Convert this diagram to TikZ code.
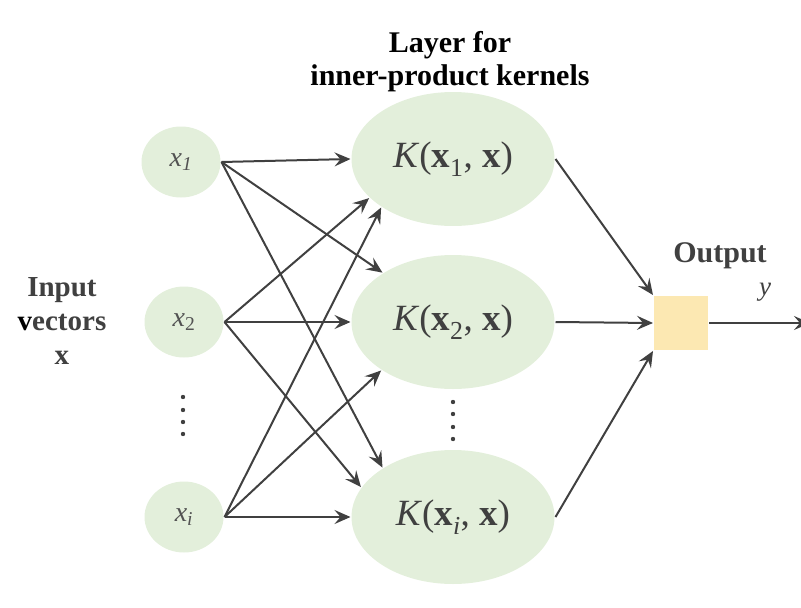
\documentclass[tikz,border=0pt]{standalone}
\usepackage{fontspec}
\setmainfont{Liberation Serif}
\usetikzlibrary{shapes.geometric,arrows.meta}
\definecolor{leaf}{RGB}{227,239,219}
\definecolor{sand}{RGB}{252,232,178}
\definecolor{ink}{RGB}{64,64,64}
\tikzset{inp/.style={ellipse, fill=leaf, minimum width=79pt, minimum height=71pt,
		inner sep=0pt, text=ink!90, font=\fontsize{28}{28}\selectfont\itshape},
	kern/.style={ellipse, fill=leaf, minimum width=203pt, minimum height=134pt,
		inner sep=0pt, text=ink, font=\fontsize{37}{37}\selectfont},
	lab/.style={align=center, font=\fontsize{30}{33}\selectfont\bfseries}}

\begin{document}
\begin{tikzpicture}[x=1pt, y=-1pt, color=ink, line width=2pt,
		-{Stealth[length=16pt, width=14pt, inset=6pt]}]
	\useasboundingbox (0,0) rectangle (801,608);
	% input units
	\node[inp] (x1) at (181,162) {x\textsubscript{1}};
	\node[inp] (x2) at (184,322) {x\textsubscript{\upshape 2}};
	\node[inp] (xi) at (184,517) {x\textsubscript{i}};
	% kernel layer
	\node[kern] (k1) at (453,159) {\textit{K}(\textbf{x}\textsubscript{1}, \textbf{x})};
	\node[kern] (k2) at (453,322) {\textit{K}(\textbf{x}\textsubscript{2}, \textbf{x})};
	\node[kern] (k3) at (453,517) {\textit{K}(\textbf{x}\textsubscript{\textit{i}}, \textbf{x})};
	\node[fill=sand, minimum size=54pt, inner sep=0pt] (out) at (681,323) {};
	\coordinate (yend) at (810,323);
	\foreach \yy in {397,410,422,434} \fill (183,\yy) circle (2.2pt);
	\foreach \yy in {402,414,427,439} \fill (453,\yy) circle (2.2pt);
	% labels
	\node[lab, text=black] (title) at (450,62) {Layer for\\inner-product kernels};
	\node[lab, font=\fontsize{29}{34}\selectfont\bfseries] (inlab) at (62,321)
		{Input\\\textcolor{black}{v}ectors\\x};
	\node[lab] (outlab) at (720,256) {Output};
	\node[font=\fontsize{27}{27}\selectfont\itshape] (ylab) at (765,292) {y};
	% connections
	\draw (x1.east) -- (k1.west);
	\draw (x1.east) -- (k2.145);
	\draw (x1.east) -- (k3.145);
	\draw (x2.east) -- (k1.205);
	\draw (x2.east) -- (k2.west);
	\draw (x2.east) -- (k3.162);
	\draw (xi.east) -- (k1.214);
	\draw (xi.east) -- (k2.214);
	\draw (xi.east) -- (k3.west);
	\draw (k1.east) -- (out.north west);
	\draw (k2.east) -- (out.west);
	\draw (k3.east) -- (out.south west);
	\draw (out.east) -- (yend);
\end{tikzpicture}
\end{document}
